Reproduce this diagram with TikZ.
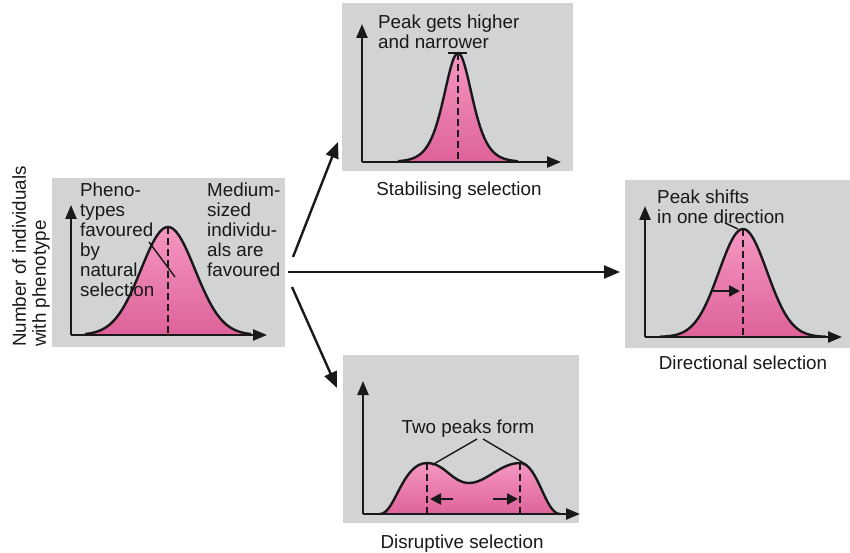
\documentclass[tikz,border=0pt]{standalone}
\usepackage{fontspec}
\setmainfont{Liberation Sans}
\usetikzlibrary{arrows.meta}
\definecolor{panelgray}{RGB}{210,211,213}
\definecolor{pinktop}{RGB}{244,150,194}
\definecolor{pinkbot}{RGB}{222,98,154}
\definecolor{inkc}{RGB}{25,25,25}
\begin{document}
\begin{tikzpicture}[x=1pt,y=-1pt,
  font=\fontsize{18.8}{20}\selectfont,
  panel/.style={fill=panelgray, draw=none, inner sep=0pt, anchor=north west},
  axisarrow/.style={draw=inkc, line width=2.4pt, -{Triangle[length=14pt,width=11pt]}},
  hump/.style={top color=pinktop, bottom color=pinkbot, draw=none},
  outline/.style={draw=inkc, line width=2.4pt},
  midline/.style={draw=inkc, line width=2.4pt, dash pattern=on 7pt off 4pt},
  flowarrow/.style={draw=inkc, line width=2.4pt, -{Triangle[length=16pt,width=13pt]}},
  shiftarrow/.style={draw=inkc, line width=2.4pt, -{Triangle[length=11pt,width=11pt]}},
  leader/.style={draw=inkc, line width=1.4pt},
  lbl/.style={anchor=north west, inner sep=0pt, align=left, text=inkc},
  captext/.style={anchor=base, inner sep=0pt, text=inkc}]
\useasboundingbox (0,0) rectangle (850,553);

% panels
\node[panel, minimum width=233pt, minimum height=169pt] (pL) at (52,178) {};
\node[panel, minimum width=231pt, minimum height=168pt] (pT) at (342,3) {};
\node[panel, minimum width=225pt, minimum height=168pt] (pR) at (625,180) {};
\node[panel, minimum width=236pt, minimum height=168pt] (pB) at (343,355) {};

% ---------- left panel ----------
\shade[hump] (85,335) -- plot[domain=85:251,samples=90] (\x,{335-108*exp(-0.5*((\x-168)/27)*((\x-168)/27))}) -- (251,335) -- cycle;
\draw[outline] plot[domain=85:251,samples=90] (\x,{335-108*exp(-0.5*((\x-168)/27)*((\x-168)/27))});
\coordinate (Lpk) at (168,227);
\coordinate (Lbase) at (168,335);
\draw[midline] (Lpk) -- (Lbase);
\coordinate (Lo) at (71,335);
\coordinate (Ly) at (71,205);
\coordinate (Lx) at (267,335);
\draw[axisarrow] (Lo) -- (Ly);
\draw[axisarrow] (Lo) -- (Lx);
\coordinate (La) at (149,242);
\coordinate (Lb) at (175,277);
\draw[leader] (La) -- (Lb);
\node[lbl] (tPheno) at (80,183) {Pheno-\\types\\favoured\\by\\natural\\selection};
\node[lbl] (tMed) at (207,183) {Medium-\\sized\\individu-\\als are\\favoured};
\node[anchor=north west, rotate=90, inner sep=0pt, align=left, text=inkc] (yl) at (12,347) {Number of individuals\\with phenotype};

% ---------- top panel ----------
\shade[hump] (398,162) -- plot[domain=398:518,samples=100] (\x,{162-109/(cosh((\x-458)/19)*cosh((\x-458)/19))}) -- (518,162) -- cycle;
\draw[outline] plot[domain=398:518,samples=100] (\x,{162-109/(cosh((\x-458)/19)*cosh((\x-458)/19))});
\coordinate (Tpk) at (458,53);
\coordinate (Tbase) at (458,162);
\draw[midline] (Tpk) -- (Tbase);
\coordinate (Tt1) at (448,53);
\coordinate (Tt2) at (467,53);
\draw[leader] (Tt1) -- (Tt2);
\coordinate (To) at (362,162);
\coordinate (Ty) at (362,24);
\coordinate (Tx) at (561,162);
\draw[axisarrow] (To) -- (Ty);
\draw[axisarrow] (To) -- (Tx);
\node[lbl] (tHigher) at (378,15) {Peak gets higher\\and narrower};
\node[captext] (cT) at (459,196) {Stabilising selection};

% ---------- right panel ----------
\shade[hump] (660,337) -- plot[domain=660:826,samples=90] (\x,{337-108*exp(-0.5*((\x-743)/24)*((\x-743)/24))}) -- (826,337) -- cycle;
\draw[outline] plot[domain=660:826,samples=90] (\x,{337-108*exp(-0.5*((\x-743)/24)*((\x-743)/24))});
\coordinate (Rpk) at (743,229);
\coordinate (Rbase) at (743,337);
\draw[midline] (Rpk) -- (Rbase);
\coordinate (Ro) at (645,337);
\coordinate (Ry) at (645,206);
\coordinate (Rx) at (842,337);
\draw[axisarrow] (Ro) -- (Ry);
\draw[axisarrow] (Ro) -- (Rx);
\coordinate (Ra1) at (713,291);
\coordinate (Ra2) at (740,291);
\draw[shiftarrow] (Ra1) -- (Ra2);
\coordinate (Rl1) at (725,223);
\coordinate (Rl2) at (738,229);
\draw[leader] (Rl1) -- (Rl2);
\node[lbl] (tShift) at (657,190) {Peak shifts\\in one direction};
\node[captext] (cR) at (743,369) {Directional selection};

% ---------- bottom panel ----------
\shade[hump] (380,514) .. controls (395,514) and (402,463) .. (427,463)
  .. controls (445,463) and (452,483) .. (469,483)
  .. controls (486,483) and (500,463) .. (520,463)
  .. controls (538,463) and (545,514) .. (560,514) -- cycle;
\draw[outline] (380,514) .. controls (395,514) and (402,463) .. (427,463)
  .. controls (445,463) and (452,483) .. (469,483)
  .. controls (486,483) and (500,463) .. (520,463)
  .. controls (538,463) and (545,514) .. (560,514);
\coordinate (Bp1) at (427,463);
\coordinate (Bb1) at (427,514);
\coordinate (Bp2) at (520,463);
\coordinate (Bb2) at (520,514);
\draw[midline] (Bp1) -- (Bb1);
\draw[midline] (Bp2) -- (Bb2);
\coordinate (Bo) at (363,514);
\coordinate (By) at (363,381);
\coordinate (Bx) at (580,514);
\draw[axisarrow] (Bo) -- (By);
\draw[axisarrow] (Bo) -- (Bx);
\coordinate (Ba1) at (453,499);
\coordinate (Ba2) at (430,499);
\coordinate (Ba3) at (493,499);
\coordinate (Ba4) at (518,499);
\draw[shiftarrow] (Ba1) -- (Ba2);
\draw[shiftarrow] (Ba3) -- (Ba4);
\node[captext] (tTwo) at (468,433) {Two peaks form};
\coordinate (Bl1) at (477,439);
\coordinate (Bl2) at (432,465);
\coordinate (Bl3) at (483,439);
\coordinate (Bl4) at (527,465);
\draw[leader] (Bl1) -- (Bl2);
\draw[leader] (Bl3) -- (Bl4);
\node[captext] (cB) at (462,548) {Disruptive selection};

% ---------- main arrows ----------
\coordinate (s1) at (293,257);
\coordinate (e1) at (338,142);
\coordinate (s2) at (288,272);
\coordinate (e2) at (620,272);
\coordinate (s3) at (292,287);
\coordinate (e3) at (337,388);
\draw[flowarrow] (s1) -- (e1);
\draw[flowarrow] (s2) -- (e2);
\draw[flowarrow] (s3) -- (e3);
\end{tikzpicture}
\end{document}
